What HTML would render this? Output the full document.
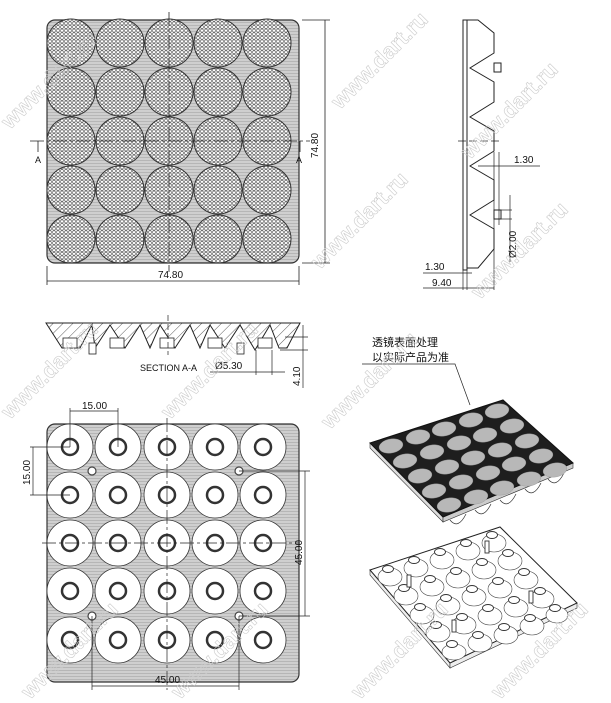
<!DOCTYPE html>
<html><head><meta charset="utf-8"><style>
html,body{margin:0;padding:0;background:#fff;width:611px;height:703px;overflow:hidden}
svg{display:block}
text{font-family:"Liberation Sans","Noto Sans CJK SC",sans-serif;fill:#111}
</style></head><body>
<svg width="611" height="703" viewBox="0 0 611 703" xmlns="http://www.w3.org/2000/svg">
<defs>
<pattern id="hex" width="4" height="3.6" patternUnits="userSpaceOnUse">
<rect width="4" height="3.6" fill="#fff"/>
<circle cx="2" cy="1.8" r="1.5" fill="none" stroke="#444" stroke-width="0.55"/>
</pattern>
<pattern id="gray" width="3" height="3" patternUnits="userSpaceOnUse">
<rect width="3" height="3" fill="#cfcfcf"/><line x1="0" y1="1.5" x2="3" y2="1.5" stroke="#b0b0b0" stroke-width="0.8"/>
</pattern>
<pattern id="hatch" width="7" height="7" patternUnits="userSpaceOnUse" patternTransform="rotate(45)">
<rect width="7" height="7" fill="#fff"/><line x1="0" y1="0" x2="0" y2="7" stroke="#333" stroke-width="0.8"/>
</pattern>
<pattern id="dotsU" width="3" height="3" patternUnits="userSpaceOnUse">
<rect width="3" height="3" fill="#555"/><circle cx="1.5" cy="1.5" r="1.1" fill="#e4e4e4"/>
</pattern>
</defs>

<!-- TOP VIEW -->
<rect x="47" y="20" width="252" height="243" rx="8" fill="url(#gray)" stroke="#333" stroke-width="1.2"/>
<g stroke="#333" stroke-width="1" fill="url(#hex)">
<circle cx="71" cy="43" r="24"/><circle cx="120" cy="43" r="24"/><circle cx="169" cy="43" r="24"/><circle cx="218" cy="43" r="24"/><circle cx="267" cy="43" r="24"/>
<circle cx="71" cy="92" r="24"/><circle cx="120" cy="92" r="24"/><circle cx="169" cy="92" r="24"/><circle cx="218" cy="92" r="24"/><circle cx="267" cy="92" r="24"/>
<circle cx="71" cy="141" r="24"/><circle cx="120" cy="141" r="24"/><circle cx="169" cy="141" r="24"/><circle cx="218" cy="141" r="24"/><circle cx="267" cy="141" r="24"/>
<circle cx="71" cy="190" r="24"/><circle cx="120" cy="190" r="24"/><circle cx="169" cy="190" r="24"/><circle cx="218" cy="190" r="24"/><circle cx="267" cy="190" r="24"/>
<circle cx="71" cy="239" r="24"/><circle cx="120" cy="239" r="24"/><circle cx="169" cy="239" r="24"/><circle cx="218" cy="239" r="24"/><circle cx="267" cy="239" r="24"/>
</g>
<g stroke="#222" stroke-width="0.8" fill="none">
<line x1="169" y1="12" x2="169" y2="272" stroke-dasharray="14,3,3,3"/>
<line x1="30" y1="141" x2="310" y2="141" stroke-dasharray="14,3,3,3"/>
<line x1="38" y1="141" x2="38" y2="152"/><line x1="300" y1="141" x2="300" y2="152"/>
<line x1="47" y1="266" x2="47" y2="285"/><line x1="299" y1="266" x2="299" y2="285"/>
<line x1="47" y1="281" x2="299" y2="281"/>
<line x1="302" y1="20" x2="330" y2="20"/><line x1="302" y1="263" x2="330" y2="263"/>
<line x1="325" y1="20" x2="325" y2="263"/>
</g>
<text x="35" y="163" font-size="9">A</text><text x="296" y="163" font-size="9">A</text>
<text x="158" y="278" font-size="10">74.80</text>
<text x="0" y="0" font-size="10" transform="translate(318,158) rotate(-90)">74.80</text>

<!-- SIDE VIEW -->
<g stroke="#222" stroke-width="1" fill="#fff">
<rect x="463" y="20" width="4" height="250"/>
<path d="M467 20 L478 20 L494 33 L494 53 L470 68 L494 82 L494 102 L470 117 L494 131 L494 151 L470 166 L494 180 L494 200 L470 215 L494 229 L494 249 L478 268 L467 268 Z"/>
<rect x="494" y="63" width="7" height="9"/><rect x="494" y="210" width="7" height="9"/>
</g>
<g stroke="#222" stroke-width="0.7" fill="none">
<line x1="458" y1="141" x2="500" y2="141" stroke-dasharray="8,3"/>
<line x1="494" y1="152" x2="494" y2="240"/><line x1="499" y1="152" x2="499" y2="225"/>
<line x1="478" y1="166" x2="540" y2="166"/>
<line x1="501" y1="210" x2="512" y2="210"/><line x1="501" y1="219" x2="512" y2="219"/>
<line x1="510" y1="195" x2="510" y2="262"/>
<line x1="467" y1="270" x2="467" y2="290"/><line x1="463" y1="270" x2="463" y2="290"/><line x1="494" y1="249" x2="494" y2="290"/>
<line x1="423" y1="273" x2="472" y2="273"/><line x1="423" y1="288" x2="494" y2="288"/>
</g>
<text x="514" y="163" font-size="10">1.30</text>
<text x="0" y="0" font-size="10" transform="translate(516,258) rotate(-90)">Ø2.00</text>
<text x="425" y="270" font-size="10">1.30</text>
<text x="432" y="286" font-size="10">9.40</text>

<!-- SECTION A-A -->
<path d="M46 323 L300 323 L287 348 L279 348 L270 325 L255 350 L240 325 L225 348 L210 325 L200 348 L190 325 L175 348 L160 325 L150 348 L140 325 L125 348 L110 325 L95 348 L92 325 L80 348 L62 348 Z" fill="url(#hatch)" stroke="#222" stroke-width="1"/>
<g stroke="#222" stroke-width="0.8" fill="#fff">
<rect x="63" y="338" width="14" height="10"/><rect x="110" y="338" width="14" height="10"/><rect x="160" y="338" width="14" height="10"/><rect x="208" y="338" width="14" height="10"/><rect x="258" y="338" width="14" height="10"/>
<rect x="89" y="343" width="7" height="11"/><rect x="237" y="343" width="7" height="11"/>
</g>
<g stroke="#222" stroke-width="0.7" fill="none">
<line x1="168" y1="315" x2="168" y2="355" stroke-dasharray="6,3"/>
<line x1="256" y1="350" x2="256" y2="375"/><line x1="272" y1="350" x2="272" y2="375"/>
<line x1="210" y1="372" x2="285" y2="372"/>
<line x1="285" y1="337" x2="308" y2="337"/><line x1="280" y1="350" x2="308" y2="350"/>
<line x1="303" y1="325" x2="303" y2="388"/>
</g>
<text x="140" y="371" font-size="9">SECTION A-A</text>
<text x="215" y="369" font-size="10">Ø5.30</text>
<text x="0" y="0" font-size="10" transform="translate(300,386) rotate(-90)">4.10</text>

<!-- BOTTOM VIEW -->
<rect x="47" y="424" width="252" height="258" rx="8" fill="url(#gray)" stroke="#333" stroke-width="1.2"/>
<g stroke="#333" stroke-width="0.8">
<g fill="#fff">
<circle cx="70" cy="447" r="23"/><circle cx="118" cy="447" r="23"/><circle cx="167" cy="447" r="23"/><circle cx="215" cy="447" r="23"/><circle cx="263" cy="447" r="23"/>
<circle cx="70" cy="495" r="23"/><circle cx="118" cy="495" r="23"/><circle cx="167" cy="495" r="23"/><circle cx="215" cy="495" r="23"/><circle cx="263" cy="495" r="23"/>
<circle cx="70" cy="543" r="23"/><circle cx="118" cy="543" r="23"/><circle cx="167" cy="543" r="23"/><circle cx="215" cy="543" r="23"/><circle cx="263" cy="543" r="23"/>
<circle cx="70" cy="591" r="23"/><circle cx="118" cy="591" r="23"/><circle cx="167" cy="591" r="23"/><circle cx="215" cy="591" r="23"/><circle cx="263" cy="591" r="23"/>
<circle cx="70" cy="640" r="23"/><circle cx="118" cy="640" r="23"/><circle cx="167" cy="640" r="23"/><circle cx="215" cy="640" r="23"/><circle cx="263" cy="640" r="23"/>
</g>
<g fill="#fff" stroke="#333" stroke-width="2.5">
<circle cx="70" cy="447" r="8"/><circle cx="118" cy="447" r="8"/><circle cx="167" cy="447" r="8"/><circle cx="215" cy="447" r="8"/><circle cx="263" cy="447" r="8"/>
<circle cx="70" cy="495" r="8"/><circle cx="118" cy="495" r="8"/><circle cx="167" cy="495" r="8"/><circle cx="215" cy="495" r="8"/><circle cx="263" cy="495" r="8"/>
<circle cx="70" cy="543" r="8"/><circle cx="118" cy="543" r="8"/><circle cx="167" cy="543" r="8"/><circle cx="215" cy="543" r="8"/><circle cx="263" cy="543" r="8"/>
<circle cx="70" cy="591" r="8"/><circle cx="118" cy="591" r="8"/><circle cx="167" cy="591" r="8"/><circle cx="215" cy="591" r="8"/><circle cx="263" cy="591" r="8"/>
<circle cx="70" cy="640" r="8"/><circle cx="118" cy="640" r="8"/><circle cx="167" cy="640" r="8"/><circle cx="215" cy="640" r="8"/><circle cx="263" cy="640" r="8"/>
</g>
<g fill="#fff" stroke="#444" stroke-width="1.2">
<circle cx="92" cy="471" r="4"/><circle cx="239" cy="471" r="4"/><circle cx="92" cy="616" r="4"/><circle cx="239" cy="616" r="4"/>
</g>
</g>
<g stroke="#222" stroke-width="0.7" fill="none">
<line x1="167" y1="418" x2="167" y2="690" stroke-dasharray="14,3,3,3"/>
<line x1="42" y1="543" x2="300" y2="543" stroke-dasharray="14,3,3,3"/>
<line x1="70" y1="408" x2="70" y2="447"/><line x1="118" y1="408" x2="118" y2="447"/>
<line x1="70" y1="411" x2="118" y2="411"/>
<line x1="30" y1="447" x2="70" y2="447"/><line x1="30" y1="495" x2="70" y2="495"/>
<line x1="33" y1="447" x2="33" y2="495"/>
<line x1="239" y1="471" x2="310" y2="471"/><line x1="239" y1="616" x2="310" y2="616"/>
<line x1="305" y1="471" x2="305" y2="616"/>
<line x1="92" y1="616" x2="92" y2="690"/><line x1="239" y1="616" x2="239" y2="690"/>
<line x1="92" y1="686" x2="239" y2="686"/>
</g>
<text x="82" y="409" font-size="10">15.00</text>
<text x="0" y="0" font-size="10" transform="translate(30,485) rotate(-90)">15.00</text>
<text x="0" y="0" font-size="10" transform="translate(302,565) rotate(-90)">45.00</text>
<text x="155" y="683" font-size="10">45.00</text>

<!-- 3D top (lens) -->
<text x="372" y="346" font-size="11">透镜表面处理</text>
<text x="372" y="361" font-size="11">以实际产品为准</text>
<polyline points="362,364 455,364 470,405" fill="none" stroke="#222" stroke-width="0.7"/>
<path d="M370 443 L443 517 L443 522 L370 448 Z" fill="#ddd" stroke="#333" stroke-width="0.6"/>
<path d="M443 517 L573 463 L573 468 L443 522 Z" fill="#ccc" stroke="#333" stroke-width="0.6"/>
<g fill="#fff" stroke="#333" stroke-width="0.7">
<path d="M450 520 q8 10 16 -6"/><path d="M475 510 q8 10 16 -6"/><path d="M500 500 q8 10 16 -6"/><path d="M525 489 q8 10 16 -6"/><path d="M548 479 q8 10 16 -6"/>
</g>
<path d="M370 443 L503 400 L573 463 L443 517 Z" fill="#1e1e1e" stroke="#111" stroke-width="1"/>
<g fill="#b8b8b8" stroke="#999" stroke-width="0.4">
<ellipse cx="391" cy="446" rx="12" ry="7" transform="rotate(-10 391 446)"/><ellipse cx="418" cy="437" rx="12" ry="7" transform="rotate(-10 418 437)"/><ellipse cx="444" cy="429" rx="12" ry="7" transform="rotate(-10 444 429)"/><ellipse cx="471" cy="420" rx="12" ry="7" transform="rotate(-10 471 420)"/><ellipse cx="497" cy="411" rx="12" ry="7" transform="rotate(-10 497 411)"/>
<ellipse cx="405" cy="461" rx="12" ry="7" transform="rotate(-10 405 461)"/><ellipse cx="432" cy="452" rx="12" ry="7" transform="rotate(-10 432 452)"/><ellipse cx="459" cy="443" rx="12" ry="7" transform="rotate(-10 459 443)"/><ellipse cx="485" cy="435" rx="12" ry="7" transform="rotate(-10 485 435)"/><ellipse cx="512" cy="426" rx="12" ry="7" transform="rotate(-10 512 426)"/>
<ellipse cx="420" cy="476" rx="12" ry="7" transform="rotate(-10 420 476)"/><ellipse cx="447" cy="467" rx="12" ry="7" transform="rotate(-10 447 467)"/><ellipse cx="473" cy="458" rx="12" ry="7" transform="rotate(-10 473 458)"/><ellipse cx="500" cy="450" rx="12" ry="7" transform="rotate(-10 500 450)"/><ellipse cx="527" cy="441" rx="12" ry="7" transform="rotate(-10 527 441)"/>
<ellipse cx="434" cy="491" rx="12" ry="7" transform="rotate(-10 434 491)"/><ellipse cx="461" cy="482" rx="12" ry="7" transform="rotate(-10 461 482)"/><ellipse cx="488" cy="473" rx="12" ry="7" transform="rotate(-10 488 473)"/><ellipse cx="514" cy="464" rx="12" ry="7" transform="rotate(-10 514 464)"/><ellipse cx="541" cy="456" rx="12" ry="7" transform="rotate(-10 541 456)"/>
<ellipse cx="449" cy="505" rx="12" ry="7" transform="rotate(-10 449 505)"/><ellipse cx="476" cy="497" rx="12" ry="7" transform="rotate(-10 476 497)"/><ellipse cx="502" cy="488" rx="12" ry="7" transform="rotate(-10 502 488)"/><ellipse cx="529" cy="479" rx="12" ry="7" transform="rotate(-10 529 479)"/><ellipse cx="555" cy="470" rx="12" ry="7" transform="rotate(-10 555 470)"/>
</g>

<!-- 3D bottom -->
<path d="M370 570 L450 663 L450 668 L370 575 Z" fill="#eee" stroke="#333" stroke-width="0.6"/>
<path d="M450 663 L577 603 L577 608 L450 668 Z" fill="#eee" stroke="#333" stroke-width="0.6"/>
<path d="M370 570 L500 527 L577 603 L450 663 Z" fill="#fff" stroke="#222" stroke-width="1"/>
<g fill="#fff" stroke="#444" stroke-width="0.6">
<ellipse cx="390" cy="577" rx="12" ry="9"/><ellipse cx="416" cy="568" rx="12" ry="9"/><ellipse cx="442" cy="560" rx="12" ry="9"/><ellipse cx="468" cy="551" rx="12" ry="9"/><ellipse cx="494" cy="543" rx="12" ry="9"/>
<ellipse cx="406" cy="596" rx="12" ry="9"/><ellipse cx="432" cy="587" rx="12" ry="9"/><ellipse cx="458" cy="579" rx="12" ry="9"/><ellipse cx="484" cy="570" rx="12" ry="9"/><ellipse cx="510" cy="561" rx="12" ry="9"/>
<ellipse cx="422" cy="615" rx="12" ry="9"/><ellipse cx="448" cy="606" rx="12" ry="9"/><ellipse cx="474" cy="597" rx="12" ry="9"/><ellipse cx="500" cy="589" rx="12" ry="9"/><ellipse cx="526" cy="580" rx="12" ry="9"/>
<ellipse cx="438" cy="633" rx="12" ry="9"/><ellipse cx="464" cy="625" rx="12" ry="9"/><ellipse cx="490" cy="616" rx="12" ry="9"/><ellipse cx="516" cy="608" rx="12" ry="9"/><ellipse cx="542" cy="599" rx="12" ry="9"/>
<ellipse cx="454" cy="652" rx="12" ry="8"/><ellipse cx="480" cy="643" rx="12" ry="9"/><ellipse cx="506" cy="635" rx="12" ry="9"/><ellipse cx="532" cy="626" rx="12" ry="9"/><ellipse cx="557" cy="615" rx="11" ry="8"/>
</g>
<g fill="#fff" stroke="#333" stroke-width="0.9">
<ellipse cx="388" cy="569" rx="5.5" ry="3.5"/><ellipse cx="414" cy="560" rx="5.5" ry="3.5"/><ellipse cx="440" cy="552" rx="5.5" ry="3.5"/><ellipse cx="466" cy="543" rx="5.5" ry="3.5"/><ellipse cx="492" cy="535" rx="5.5" ry="3.5"/>
<ellipse cx="404" cy="588" rx="5.5" ry="3.5"/><ellipse cx="430" cy="579" rx="5.5" ry="3.5"/><ellipse cx="456" cy="571" rx="5.5" ry="3.5"/><ellipse cx="482" cy="562" rx="5.5" ry="3.5"/><ellipse cx="508" cy="553" rx="5.5" ry="3.5"/>
<ellipse cx="420" cy="607" rx="5.5" ry="3.5"/><ellipse cx="446" cy="598" rx="5.5" ry="3.5"/><ellipse cx="472" cy="589" rx="5.5" ry="3.5"/><ellipse cx="498" cy="581" rx="5.5" ry="3.5"/><ellipse cx="524" cy="572" rx="5.5" ry="3.5"/>
<ellipse cx="436" cy="625" rx="5.5" ry="3.5"/><ellipse cx="462" cy="617" rx="5.5" ry="3.5"/><ellipse cx="488" cy="608" rx="5.5" ry="3.5"/><ellipse cx="514" cy="600" rx="5.5" ry="3.5"/><ellipse cx="540" cy="591" rx="5.5" ry="3.5"/>
<ellipse cx="452" cy="644" rx="5.5" ry="3.5"/><ellipse cx="478" cy="635" rx="5.5" ry="3.5"/><ellipse cx="504" cy="627" rx="5.5" ry="3.5"/><ellipse cx="530" cy="618" rx="5.5" ry="3.5"/><ellipse cx="555" cy="608" rx="5.5" ry="3.5"/>
<rect x="407" y="575" width="4" height="12"/><rect x="485" y="541" width="4" height="12"/><rect x="452" y="620" width="4" height="12"/><rect x="529" y="591" width="4" height="12"/>
</g>

<!-- watermarks -->
<g font-size="22" font-weight="bold" stroke="#ccc" stroke-width="0.6">
<text x="0" y="0" transform="translate(340,110) rotate(-45)" style="fill:none">www.dart.ru</text>
<text x="0" y="0" transform="translate(470,160) rotate(-45)" style="fill:none">www.dart.ru</text>
<text x="0" y="0" transform="translate(320,270) rotate(-45)" style="fill:none">www.dart.ru</text>
<text x="0" y="0" transform="translate(480,300) rotate(-45)" style="fill:none">www.dart.ru</text>
<text x="0" y="0" transform="translate(10,420) rotate(-45)" style="fill:none">www.dart.ru</text>
<text x="0" y="0" transform="translate(170,420) rotate(-45)" style="fill:none">www.dart.ru</text>
<text x="0" y="0" transform="translate(330,430) rotate(-45)" style="fill:none">www.dart.ru</text>
<text x="0" y="0" transform="translate(30,700) rotate(-45)" style="fill:none">www.dart.ru</text>
<text x="0" y="0" transform="translate(180,700) rotate(-45)" style="fill:none">www.dart.ru</text>
<text x="0" y="0" transform="translate(360,700) rotate(-45)" style="fill:none">www.dart.ru</text>
<text x="0" y="0" transform="translate(500,700) rotate(-45)" style="fill:none">www.dart.ru</text>
<text x="0" y="0" transform="translate(10,130) rotate(-45)" style="fill:none">www.dart.ru</text>
</g>
</svg>
</body></html>
